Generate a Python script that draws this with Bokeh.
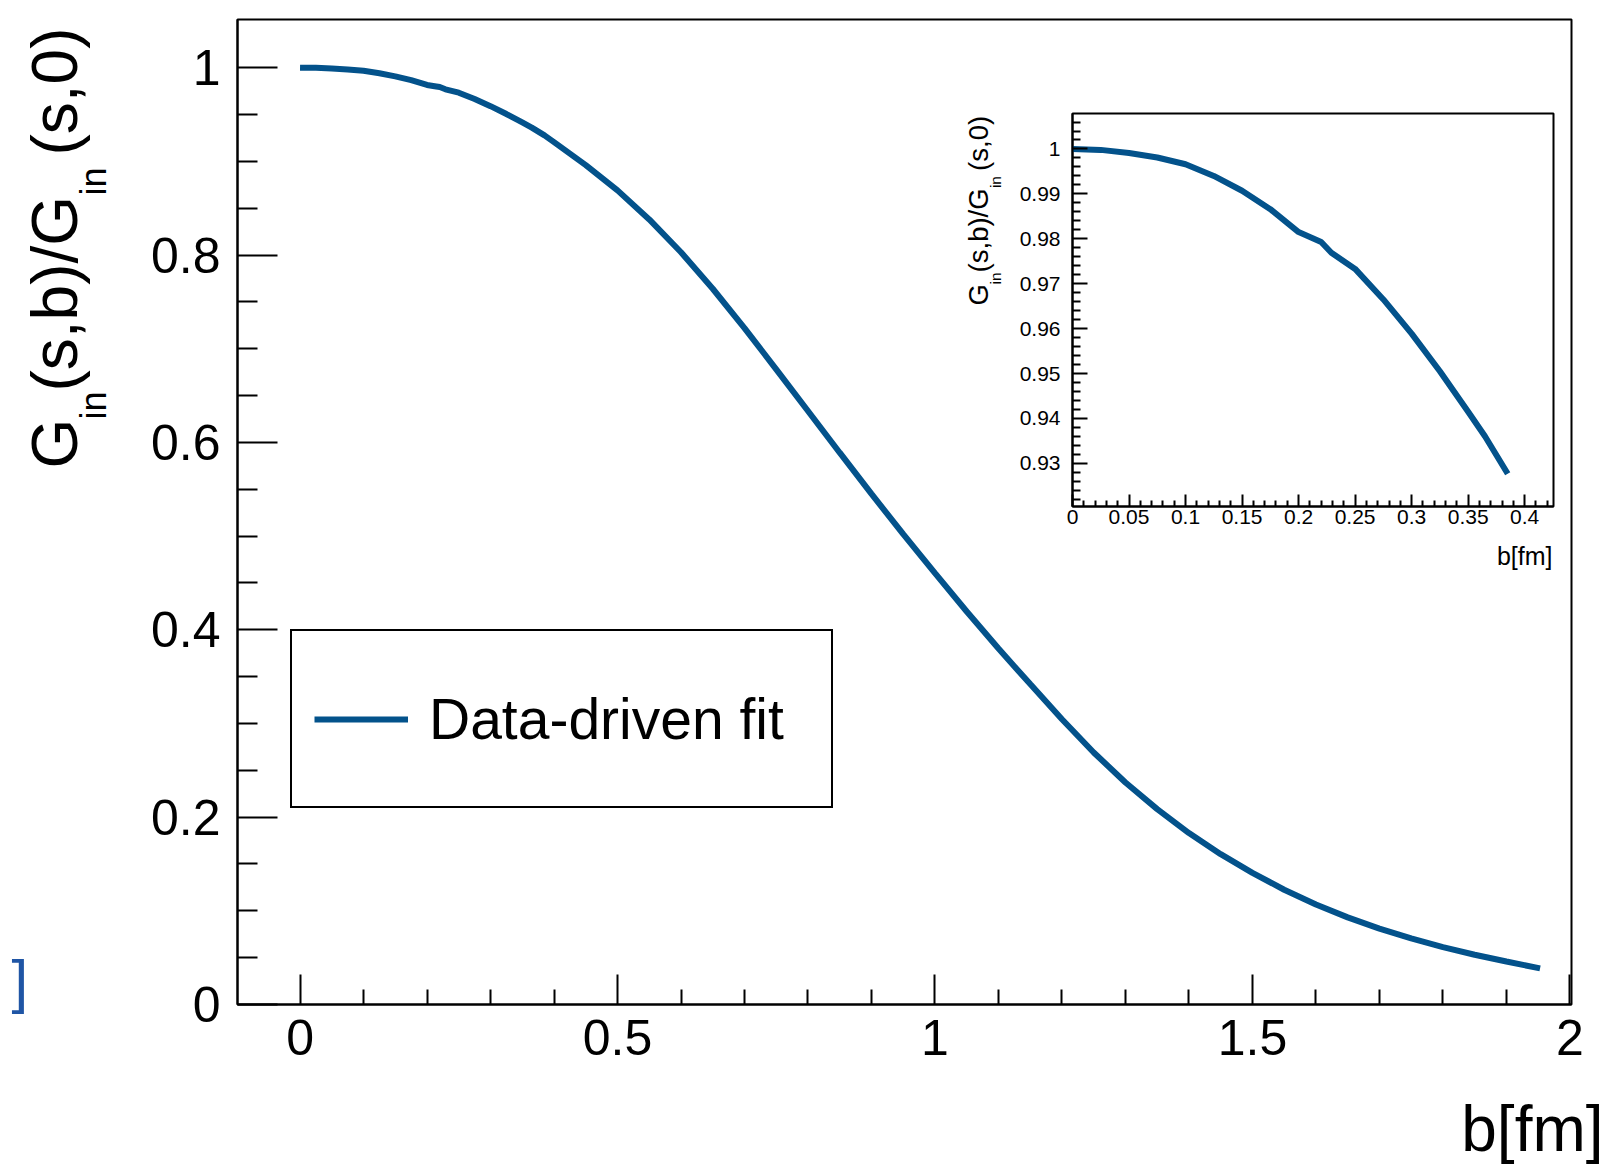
import numpy as np
from bokeh.plotting import figure
from bokeh.models import Range1d, FixedTicker, Label, NumeralTickFormatter
from bokeh.layouts import column
from bokeh.embed import file_html
from bokeh.resources import INLINE

# ---------------- data ----------------
b_fm = [0.0, 0.025, 0.05, 0.075, 0.10, 0.125, 0.15, 0.175, 0.20, 0.212,
        0.220, 0.229, 0.25, 0.275, 0.30, 0.325, 0.35, 0.365, 0.385, 0.40,
        0.45, 0.50, 0.55, 0.60, 0.65, 0.70, 0.75, 0.80, 0.85, 0.90,
        0.95, 1.00, 1.05, 1.10, 1.15, 1.20, 1.25, 1.30, 1.35, 1.40,
        1.45, 1.50, 1.55, 1.60, 1.65, 1.70, 1.75, 1.80, 1.85, 1.90, 1.953]
g_ratio = [1.0, 0.9998, 0.9991, 0.9981, 0.9966, 0.9940, 0.9907, 0.9866, 0.9815, 0.9802,
           0.9793, 0.9769, 0.9733, 0.9665, 0.9589, 0.9505, 0.9415, 0.9360, 0.9277, 0.9205,
           0.8960, 0.8690, 0.8380, 0.8030, 0.7640, 0.7220, 0.6780, 0.6335, 0.5890, 0.5450,
           0.5020, 0.4605, 0.4195, 0.3800, 0.3420, 0.3045, 0.2690, 0.2370, 0.2085, 0.1830,
           0.1605, 0.1405, 0.1225, 0.1067, 0.0930, 0.0810, 0.0705, 0.0612, 0.0531, 0.0459, 0.0385]

# inset shows the small-b part of the same curve
inset_b = [b for b in b_fm if b <= 0.3851]
inset_g = g_ratio[:len(inset_b)]

x_ticks = [0, 0.5, 1, 1.5, 2]
x_tick_labels = ["0", "0.5", "1", "1.5", "2"]
y_ticks = [0, 0.2, 0.4, 0.6, 0.8, 1.0]
y_tick_labels = ["0", "0.2", "0.4", "0.6", "0.8", "1"]
ix_ticks = [0, 0.05, 0.1, 0.15, 0.2, 0.25, 0.3, 0.35, 0.4]
ix_tick_labels = ["0", "0.05", "0.1", "0.15", "0.2", "0.25", "0.3", "0.35", "0.4"]
iy_ticks = [0.93, 0.94, 0.95, 0.96, 0.97, 0.98, 0.99, 1.0]
iy_tick_labels = ["0.93", "0.94", "0.95", "0.96", "0.97", "0.98", "0.99", "1"]

# y title  G_in(s,b)/G_in(s,0)  as (text, is_subscript) pieces
y_title_parts = [("G", False), ("in", True), ("(s,b)/G", False), ("in", True), ("(s,0)", False)]
x_title = "b[fm]"
legend_text = "Data-driven fit"
stray_text = "]"

# ---------------- style / geometry ----------------
LINE_COLOR = "#03528b"
FONT = "Liberation Sans"
BASE_SHIFT = 0.32      # renderer places the alphabetic baseline this many em lower

W, H = 1603, 1164
FL, FR, FT, FB = 237, 1571, 19, 1004          # main frame (page px)
X0, X1 = -0.0985, 2.0025
Y0, Y1 = 0.0, 1.0514

IL, IR, IT, IB = 1072, 1553, 113, 506          # inset frame (page px)
IX0, IX1 = 0.0, 0.4255
IY0, IY1 = 0.9204, 1.0079
INSET_LEFT, INSET_TOP = 950, 95
INSET_W, INSET_H = 615, 485


def minor_list(start, stop, step, majors):
    vals = np.round(np.arange(start, stop + step / 2, step), 5)
    return [float(v) for v in vals if not any(abs(v - m) < step / 10 for m in majors)]


def no_align(fig):
    if "frame_align" in fig.properties():
        fig.frame_align = False


def style_axis(ax, ticks, labels, minors, fmt, fs, tick_in, minor_in, standoff, lw):
    ax.ticker = FixedTicker(ticks=ticks, minor_ticks=minors)
    ax.formatter = NumeralTickFormatter(format=fmt)
    ax.major_label_overrides = {t: l for t, l in zip(ticks, labels)}
    ax.major_label_text_font = FONT
    ax.major_label_text_font_size = fs
    ax.major_label_text_color = "black"
    ax.major_label_standoff = standoff
    ax.major_tick_in = tick_in
    ax.major_tick_out = 0
    ax.minor_tick_in = minor_in
    ax.minor_tick_out = 0
    ax.major_tick_line_width = lw
    ax.minor_tick_line_width = lw
    ax.major_tick_line_color = "black"
    ax.minor_tick_line_color = "black"
    ax.axis_line_width = lw
    ax.axis_line_color = "black"


# ---------------- main figure ----------------
p = figure(width=W, height=H, frame_width=FR - FL, frame_height=FB - FT,
           output_backend="svg", toolbar_location=None,
           x_range=Range1d(X0, X1), y_range=Range1d(Y0, Y1),
           min_border_left=FL, min_border_right=W - FR,
           min_border_top=FT, min_border_bottom=H - FB)
no_align(p)
p.grid.visible = False
p.outline_line_color = "black"
p.outline_line_width = 2
p.background_fill_color = "white"
p.border_fill_color = "white"

style_axis(p.xaxis[0], x_ticks, x_tick_labels, minor_list(0, 2.0, 0.1, x_ticks),
           "0.[00]", "50px", 30, 15, 15, 2)
style_axis(p.yaxis[0], y_ticks, y_tick_labels, minor_list(0, 1.0, 0.05, y_ticks),
           "0.[00]", "50px", 40, 20, 17, 2)

p.line(b_fm, g_ratio, line_color=LINE_COLOR, line_width=6, legend_label=legend_text)

lg = p.legend[0]
lg.location = (290 - FL, FB - 808)
lg.margin = 0
lg.padding = 22
lg.glyph_width = 94
lg.glyph_height = 20
lg.label_standoff = 21
lg.label_height = 131
lg.label_width = 380
lg.label_text_font = FONT
lg.label_text_font_size = "57px"
lg.label_text_color = "black"
lg.border_line_color = "black"
lg.border_line_width = 2
lg.border_line_alpha = 1.0
lg.background_fill_color = "white"
lg.background_fill_alpha = 1.0

# ---------------- inset figure ----------------
q = figure(width=INSET_W, height=INSET_H, frame_width=IR - IL, frame_height=IB - IT,
           output_backend="svg", toolbar_location=None,
           x_range=Range1d(IX0, IX1), y_range=Range1d(IY0, IY1),
           min_border_left=IL - INSET_LEFT, min_border_right=INSET_LEFT + INSET_W - IR,
           min_border_top=IT - INSET_TOP, min_border_bottom=INSET_TOP + INSET_H - IB)
no_align(q)
q.grid.visible = False
q.outline_line_color = "black"
q.outline_line_width = 2
q.background_fill_alpha = 0
q.border_fill_alpha = 0

style_axis(q.xaxis[0], ix_ticks, ix_tick_labels, minor_list(0, 0.42, 0.01, ix_ticks),
           "0.[00]", "21px", 12, 6, 3, 2)
style_axis(q.yaxis[0], iy_ticks, iy_tick_labels, minor_list(0.922, 1.006, 0.002, iy_ticks),
           "0.[00]", "21px", 15, 8, 12, 2)

q.line(inset_b, inset_g, line_color=LINE_COLOR, line_width=6)
q.styles = {"position": "absolute", "left": f"{INSET_LEFT}px", "top": f"{INSET_TOP}px"}

# ---------------- overlay for free-standing texts (titles) ----------------
ov = figure(width=W, height=H, frame_width=W, frame_height=H,
            output_backend="svg", toolbar_location=None,
            x_range=Range1d(0, W), y_range=Range1d(0, H),
            x_axis_location=None, y_axis_location=None,
            min_border=0, min_border_left=0, min_border_right=0,
            min_border_top=0, min_border_bottom=0)
no_align(ov)
ov.grid.visible = False
ov.outline_line_color = None
ov.background_fill_alpha = 0
ov.border_fill_alpha = 0
ov.styles = {"position": "absolute", "left": "0px", "top": "0px"}


def put(text, sx, sy, size, align="left", angle=0.0, color="black"):
    """sx, sy: wanted page position of the text's baseline start/end."""
    shift = BASE_SHIFT * size
    if angle == 0.0:
        sy = sy - shift
    else:
        sx = sx - shift
    ov.add_layout(Label(x=sx, y=H - sy, text=text, angle=angle, text_align=align,
                        text_baseline="alphabetic", text_font=FONT,
                        text_font_size=f"{round(size, 1)}px", text_color=color))


def rotated_title(bottom_y, base_x, scale):
    # start positions (px from the bottom end of the title) measured on the reference
    starts = [0, 49, 77, 273, 313]
    for (txt, sub), st in zip(y_title_parts, starts):
        if sub:
            put(txt, base_x + 30 * scale, bottom_y - st * scale, 36 * scale, angle=np.pi / 2)
        else:
            put(txt, base_x, bottom_y - st * scale, 64 * scale, angle=np.pi / 2)


rotated_title(468, 75, 1.0)            # main y title
rotated_title(305, 987, 0.43)          # inset y title
put(x_title, 1603, 1149, 64, align="right")   # main x title
put(x_title, 1552, 563, 25, align="right")    # inset x title
put(stray_text, 11, 1000, 60, color="#1f55a5")

layout = column(p, q, ov, styles={"position": "relative"})

open("out.html", "w").write(file_html(layout, INLINE))
